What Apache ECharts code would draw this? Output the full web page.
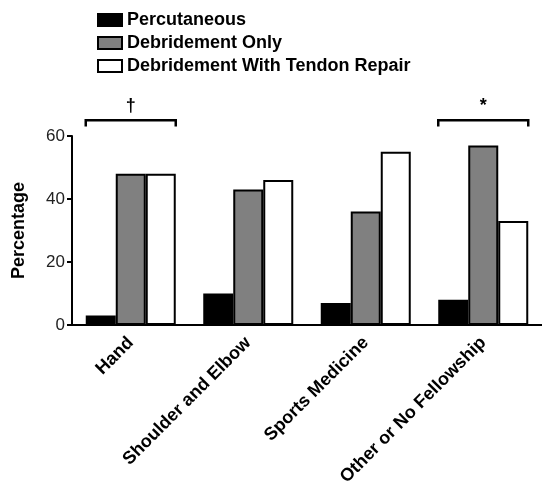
<!DOCTYPE html>
<html>
<head>
<meta charset="utf-8">
<script src="https://cdn.jsdelivr.net/npm/echarts@6/dist/echarts.min.js"></script>
<style>
  html, body { margin: 0; padding: 0; background: #fff; }
  #chart { width: 542px; height: 489px; }
</style>
</head>
<body>
<div id="chart"></div>
<script>
(function () {
  'use strict';

  // ── Data ──
  var categories = ['Hand', 'Shoulder and Elbow', 'Sports Medicine', 'Other or No Fellowship'];
  var percutaneous = [3, 10, 7, 8];
  var debridementOnly = [48, 43, 36, 57];
  var debridementRepair = [48, 46, 55, 33];
  var yTicks = [0, 20, 40, 60];
  // significance brackets: [category index, level, marker]
  var brackets = [[0, 65, '\u2020'], [3, 65, '*']];

  var FONT = 'Arial, "Liberation Sans", Helvetica, sans-serif';
  var BAR_W = 30;

  function barSeries(name, values, color) {
    return {
      name: name,
      type: 'bar',
      data: values,
      barWidth: BAR_W,
      barGap: '0%',
      itemStyle: { color: color, borderColor: '#000', borderWidth: 2 },
      emphasis: { disabled: true },
      z: 2
    };
  }

  function legendItem(name, color) {
    return { name: name, icon: 'rect', itemStyle: { color: color, borderColor: '#000', borderWidth: 2 } };
  }

  var chart = echarts.init(document.getElementById('chart'), null, { renderer: 'canvas' });

  chart.setOption({
    animation: false,
    textStyle: { fontFamily: FONT },
    legend: {
      orient: 'vertical',
      left: 92,
      top: 6,
      itemWidth: 24,
      itemHeight: 12,
      itemGap: 5,
      selectedMode: false,
      textStyle: { fontFamily: FONT, fontSize: 18, fontWeight: 'bold', color: '#000' },
      data: [
        legendItem('Percutaneous', '#000'),
        legendItem('Debridement Only', '#808080'),
        legendItem('Debridement With Tendon Repair', '#fff')
      ]
    },
    grid: { left: 72, top: 136, width: 475, height: 189, containLabel: false },
    xAxis: {
      type: 'category',
      data: categories,
      axisLine: { lineStyle: { color: '#000', width: 2 } },
      axisTick: { alignWithLabel: true, length: 6, lineStyle: { color: '#000', width: 2 } },
      axisLabel: {
        rotate: 45,
        interval: 0,
        margin: 15,
        fontFamily: FONT,
        fontSize: 18,
        fontWeight: 'bold',
        color: '#000'
      }
    },
    yAxis: {
      type: 'value',
      min: yTicks[0],
      max: yTicks[yTicks.length - 1],
      interval: yTicks[1] - yTicks[0],
      name: 'Percentage',
      nameLocation: 'middle',
      nameGap: 44,
      nameTextStyle: { fontFamily: FONT, fontSize: 18, fontWeight: 'bold', color: '#000' },
      axisLine: { show: true, lineStyle: { color: '#000', width: 2 } },
      axisTick: { show: true, length: 5, lineStyle: { color: '#000', width: 2 } },
      axisLabel: { fontFamily: FONT, fontSize: 17, color: '#222', margin: 7 },
      splitLine: { show: false }
    },
    series: [
      barSeries('Percutaneous', percutaneous, '#000'),
      barSeries('Debridement Only', debridementOnly, '#808080'),
      barSeries('Debridement With Tendon Repair', debridementRepair, '#fff'),
      {
        type: 'custom',
        name: 'brackets',
        data: brackets,
        clip: false,
        silent: true,
        z: 5,
        renderItem: function (params, api) {
          var center = api.coord([api.value(0), api.value(1)]);
          var lower = api.coord([api.value(0), api.value(1) - 2]);
          var half = BAR_W * 1.5;
          var x0 = center[0] - half, x1 = center[0] + half, y = center[1];
          var style = { stroke: '#000', lineWidth: 2.5, fill: null };
          return {
            type: 'group',
            children: [
              { type: 'polyline', shape: { points: [[x0, lower[1]], [x0, y], [x1, y], [x1, lower[1]]] }, style: style },
              {
                type: 'text',
                x: center[0],
                y: y - 5,
                style: {
                  text: brackets[params.dataIndex][2],
                  fontFamily: FONT,
                  fontSize: 18,
                  fontWeight: 'bold',
                  fill: '#000',
                  align: 'center',
                  verticalAlign: 'bottom'
                }
              }
            ]
          };
        }
      }
    ]
  });
})();
</script>
</body>
</html>
